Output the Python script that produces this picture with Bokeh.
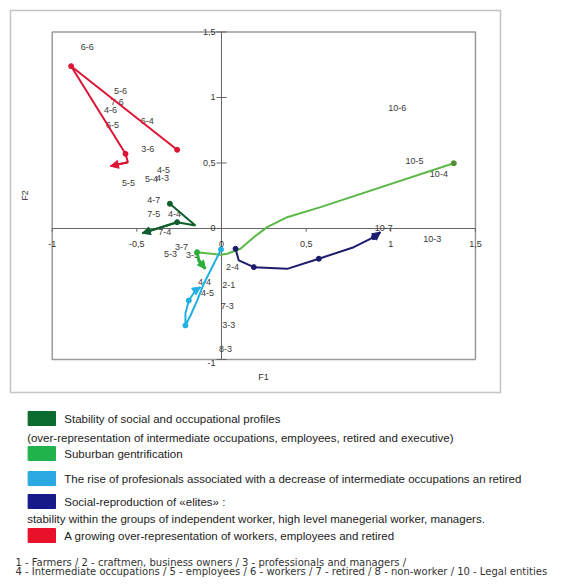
from bokeh.plotting import figure
from bokeh.models import Range1d, Arrow, NormalHead
from bokeh.layouts import column
from bokeh.core.properties import value
from bokeh.embed import file_html
from bokeh.resources import INLINE

FONT = value("Liberation Sans")

# ---------------- data (F1, F2 coordinates) ----------------
red_x = [-0.262, -0.888, -0.567, -0.553, -0.656]
red_y = [0.601, 1.239, 0.570, 0.506, 0.476]
red_dots = [0, 1, 2]

dkgreen_x = [-0.305, -0.154, -0.262, -0.468]
dkgreen_y = [0.189, 0.023, 0.048, -0.036]
dkgreen_dots = [0, 2]

green_x = [1.372, 0.585, 0.388, 0.270, 0.191, 0.112, 0.034, -0.006, -0.144]
green_y = [0.498, 0.163, 0.086, 0.010, -0.066, -0.155, -0.193, -0.201, -0.181]
green_hook_x = [-0.144, -0.134, -0.095]
green_hook_y = [-0.181, -0.244, -0.308]
green_dots = [0]

cyan_x = [-0.003, -0.065, -0.105, -0.144, -0.183, -0.213, -0.213, -0.193, -0.154, -0.124]
cyan_y = [-0.160, -0.321, -0.422, -0.550, -0.664, -0.740, -0.649, -0.550, -0.473, -0.448]
cyan_dots = [0, 5, 7]

navy_x = [0.083, 0.102, 0.191, 0.388, 0.575, 0.781, 0.900, 0.939]
navy_y = [-0.155, -0.244, -0.295, -0.308, -0.231, -0.143, -0.066, -0.028]
navy_dots = [0, 2, 4, 6]

label_text = ["6-6", "5-6", "7-6", "4-6", "6-5", "6-4", "3-6", "5-5", "5-4", "4-3", "4-5",
              "4-7", "7-5", "4-4", "7-4",
              "5-3", "3-7", "3-5", "10-5", "10-4",
              "4-4", "4-5",
              "2-4", "2-1", "7-3", "3-3", "8-3",
              "10-7", "10-3", "10-6"]
label_x = [-0.793, -0.597, -0.616, -0.656, -0.644, -0.439, -0.435, -0.549, -0.413, -0.349, -0.343,
           -0.400, -0.400, -0.278, -0.335,
           -0.301, -0.236, -0.171, 1.140, 1.284,
           -0.100, -0.083,
           0.065, 0.043, 0.034, 0.043, 0.024,
           0.959, 1.245, 1.038]
label_y = [1.384, 1.048, 0.969, 0.908, 0.792, 0.824, 0.608, 0.351, 0.374, 0.389, 0.443,
           0.219, 0.112, 0.112, -0.028,
           -0.191, -0.145, -0.206, 0.514, 0.418,
           -0.412, -0.496,
           -0.295, -0.435, -0.588, -0.740, -0.918,
           0.005, -0.084, 0.921]

xtick_vals = [-1, -0.5, 0, 0.5, 1, 1.5]
xtick_labels = ["-1", "-0,5", "0", "0,5", "1", "1,5"]
ytick_vals = [-1, 0, 0.5, 1, 1.5]
ytick_labels = ["-1", "0", "0,5", "1", "1,5"]

legend_labels = [
    "Stability of social and occupational profiles",
    "Suburban gentrification",
    "The rise of profesionals associated with a decrease of intermediate occupations an retired",
    "Social-reproduction of \u00abelites\u00bb :",
    "A growing over-representation of workers, employees and retired",
]
legend_colors = ["#0b6a2e", "#22b24c", "#2aa8e0", "#16198a", "#e8102a"]
legend_notes = [
    "(over-representation of intermediate occupations, employees, retired and executive)",
    "stability within the groups of independent worker, high level manegerial worker, managers.",
]
footnotes = [
    "1 - Farmers / 2 - craftmen, business owners / 3 - professionals and managers /",
    "4 - Intermediate occupations / 5 - employees / 6 - workers / 7 - retired / 8 - non-worker / 10 - Legal entities",
]

# ---------------- chart ----------------
p = figure(width=502, height=395,
           x_range=Range1d(-1.2463, 1.648), y_range=Range1d(-1.252, 1.664),
           x_axis_type=None, y_axis_type=None,
           output_backend="svg", toolbar_location=None,
           min_border_left=10, min_border_right=2, min_border_top=10, min_border_bottom=3)
p.xgrid.visible = False
p.ygrid.visible = False
p.outline_line_color = "#c4c4c4"
p.outline_line_width = 1.5
p.background_fill_color = "white"
p.border_fill_color = "white"

# inner frame
p.quad(left=[-1], right=[1.5], bottom=[-1], top=[1.5], fill_color=None,
       line_color="#9a9a9a", line_width=1.5)

# axes through origin
p.segment(x0=[-1], y0=[0], x1=[1.5], y1=[0], line_color="#666666", line_width=1)
p.segment(x0=[0], y0=[-1], x1=[0], y1=[1.5], line_color="#666666", line_width=1)
tx = [v for v in xtick_vals if v != 0]
p.segment(x0=tx, y0=[-0.025] * len(tx), x1=tx, y1=[0.0] * len(tx), line_color="#666666")
ty = [v for v in ytick_vals if v != 0]
p.segment(x0=[-0.03] * len(ty), y0=ty, x1=[0.03] * len(ty), y1=ty, line_color="#666666")

p.text(x=xtick_vals, y=[-0.115] * len(xtick_vals), text=xtick_labels,
       text_font=FONT, text_font_size="9px", text_align="center", text_baseline="middle",
       text_color="#333333")
p.text(x=[-0.035] * len(ytick_vals), y=[v if v != -1 else -1.025 for v in ytick_vals],
       text=ytick_labels, text_font=FONT, text_font_size="9px", text_align="right",
       text_baseline="middle", text_color="#333333")

p.text(x=[0.248], y=[-1.137], text=["F1"], text_font=FONT, text_font_size="9px",
       text_align="center", text_baseline="middle", text_color="#333333")
p.text(x=[-1.158], y=[0.252], text=["F2"], text_font=FONT, text_font_size="9px",
       text_align="center", text_baseline="middle", text_color="#333333", angle=1.5708)


def trajectory(xs, ys, dots, color, width=2):
    p.line(xs, ys, line_color=color, line_width=width)
    p.scatter([xs[i] for i in dots], [ys[i] for i in dots], size=5,
              fill_color=color, line_color=color)
    p.add_layout(Arrow(end=NormalHead(size=8, fill_color=color, line_color=color),
                       x_start=xs[-2], y_start=ys[-2], x_end=xs[-1], y_end=ys[-1],
                       line_color=color, line_width=width))


# labels beneath lines
p.text(x=label_x, y=label_y, text=label_text, text_font=FONT, text_font_size="9px",
       text_align="center", text_baseline="middle", text_color="#3a3a3a")

trajectory(red_x, red_y, red_dots, "#dc1436")
trajectory(dkgreen_x, dkgreen_y, dkgreen_dots, "#0d5e2c")
p.line(green_x, green_y, line_color="#5cb947", line_width=2)
p.scatter([green_x[i] for i in green_dots], [green_y[i] for i in green_dots], size=5,
          fill_color="#4f8f2f", line_color="#4f8f2f")
trajectory(green_hook_x, green_hook_y, [0], "#2aae3c", width=3)
trajectory(cyan_x, cyan_y, cyan_dots, "#20b0e4")
trajectory(navy_x, navy_y, navy_dots, "#1c1c6e")

# ---------------- legend & footnotes ----------------
leg = figure(width=554, height=190, x_range=Range1d(0, 554), y_range=Range1d(585, 395),
             x_axis_type=None, y_axis_type=None, output_backend="svg", toolbar_location=None,
             min_border_left=0, min_border_right=0, min_border_top=0, min_border_bottom=0)
leg.xgrid.visible = False
leg.ygrid.visible = False
leg.outline_line_color = None

sw_y = [418, 453, 478, 501, 535]
leg.quad(left=[18] * 5, right=[46] * 5, top=[v - 7 for v in sw_y], bottom=[v + 7 for v in sw_y],
         fill_color=legend_colors, line_color=legend_colors)
leg.text(x=[55] * 5, y=sw_y, text=legend_labels, text_font=FONT, text_font_size="11.5px",
         text_baseline="middle", text_align="left", text_color="#222222")
leg.text(x=[17, 17], y=[437, 518], text=legend_notes, text_font=FONT, text_font_size="11.5px",
         text_baseline="middle", text_align="left", text_color="#222222")
leg.text(x=[5, 5], y=[562, 571], text=footnotes, text_font=value("DejaVu Sans"),
         text_font_size="10px", text_baseline="middle", text_align="left", text_color="#333333")

layout = column(p, leg)
open("out.html", "w").write(file_html(layout, INLINE))
